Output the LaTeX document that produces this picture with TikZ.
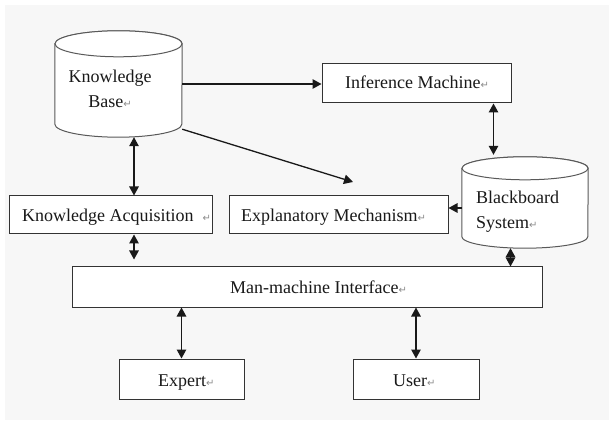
\documentclass[tikz,border=0pt]{standalone}
\usepackage{fontspec}
\setmainfont{Liberation Serif}
\newfontfamily\marksymfont{DejaVu Sans}
\usetikzlibrary{arrows.meta,calc}
\newcommand\retmark{{\marksymfont\fontsize{10}{10}\selectfont\color{black!45}↵}}
\begin{document}
\begin{tikzpicture}[x=1pt,y=1pt,
  box/.style={draw=black!80, line width=1pt, fill=white, inner sep=0pt},
  lbl/.style={font=\rmfamily\fontsize{18}{25}\selectfont, inner sep=0pt, text=black!90},
  conn/.style={line width=1.3pt, draw=black!90},
  tip/.style={-{Triangle[length=9pt,width=9.5pt]}},
  both/.style={{Triangle[length=9pt,width=9.5pt]}-{Triangle[length=9pt,width=9.5pt]}},
  cylline/.style={draw=black!65, line width=1pt, fill=white},
  cylbox/.style={inner sep=0pt, draw=none}]

\fill[white] (0,0) rectangle (609,420);
\fill[black!3] (5,0) rectangle (609,415);
\useasboundingbox (0,0) rectangle (609,420);

% Knowledge Base cylinder
\node[cylbox, minimum width=127pt, minimum height=106pt] (kb) at (118.5,336) {};
\path[cylline] ($(kb.north west)+(0,-13)$) -- ($(kb.south west)+(0,13)$)
  arc[start angle=180, end angle=360, x radius=63.5, y radius=13]
  -- ($(kb.north east)+(0,-13)$)
  arc[start angle=0, end angle=180, x radius=63.5, y radius=13] -- cycle;
\draw[cylline] ($(kb.north)+(0,-13)$) ellipse[x radius=63.5, y radius=13];
\node[lbl, align=center] (kbt) at (110,331.4) {Knowledge\\Base\retmark};

% Blackboard System cylinder
\node[cylbox, minimum width=126pt, minimum height=91pt] (bb) at (525,217.5) {};
\path[cylline] ($(bb.north west)+(0,-11.5)$) -- ($(bb.south west)+(0,11.5)$)
  arc[start angle=180, end angle=360, x radius=63, y radius=11.5]
  -- ($(bb.north east)+(0,-11.5)$)
  arc[start angle=0, end angle=180, x radius=63, y radius=11.5] -- cycle;
\draw[cylline] ($(bb.north)+(0,-11.5)$) ellipse[x radius=63, y radius=11.5];
\node[lbl, align=left, anchor=west] (bbt) at (476,208.7) {Blackboard\\System\retmark};

% Boxes
\node[box, minimum width=189pt, minimum height=39pt] (inf) at (416.5,336.5) {};
\node[lbl, anchor=base west] (inft) at (345,331) {Inference Machine\retmark};

\node[box, minimum width=203pt, minimum height=38pt] (ka) at (110.5,205) {};
\node[lbl, anchor=base west] (kat) at (22,198) {Knowledge Acquisition\hspace{9pt}\retmark};

\node[box, minimum width=219pt, minimum height=38pt] (expl) at (338.5,205) {};
\node[lbl, anchor=base west] (explt) at (241,198) {Explanatory Mechanism\retmark};

\node[box, minimum width=470pt, minimum height=40pt] (mmi) at (307,133) {};
\node[lbl, anchor=base west] (mmit) at (230,126) {Man-machine Interface\retmark};

\node[box, minimum width=125pt, minimum height=40pt] (expert) at (181.5,41) {};
\node[lbl, anchor=base west] (expertt) at (158,34) {Expert\retmark};

\node[box, minimum width=126pt, minimum height=40pt] (user) at (416,41) {};
\node[lbl, anchor=base west] (usert) at (393,34) {User\retmark};

% Connectors
\draw[conn,tip] (kb.east) -- (kb.east -| inf.west);
\coordinate (kbx) at (353,238);
\draw[conn,tip] ($(kb.south east)+(0,8)$) -- (kbx);
\coordinate (kbka) at ($(kb.south)+(15.5,0)$);
\draw[conn,both] (kbka) -- (kbka |- ka.north);
\draw[conn,both,shorten >=7pt] (kbka |- ka.south) -- (kbka |- mmi.north);
\coordinate (ib) at ($(inf.south east)+(-18,0)$);
\draw[conn,both,shorten >=2pt] (ib) -- (ib |- bb.north);
\coordinate (be) at ($(expl.east)+(0,7)$);
\draw[conn,tip] (be -| bb.west) -- (be);
\coordinate (bm) at ($(mmi.north east)+(-32,0)$);
\draw[conn,both] (bm |- bb.south) -- (bm);
\draw[conn,both] (expert.north) -- (expert.north |- mmi.south);
\draw[conn,both] (user.north) -- (user.north |- mmi.south);
\end{tikzpicture}
\end{document}
